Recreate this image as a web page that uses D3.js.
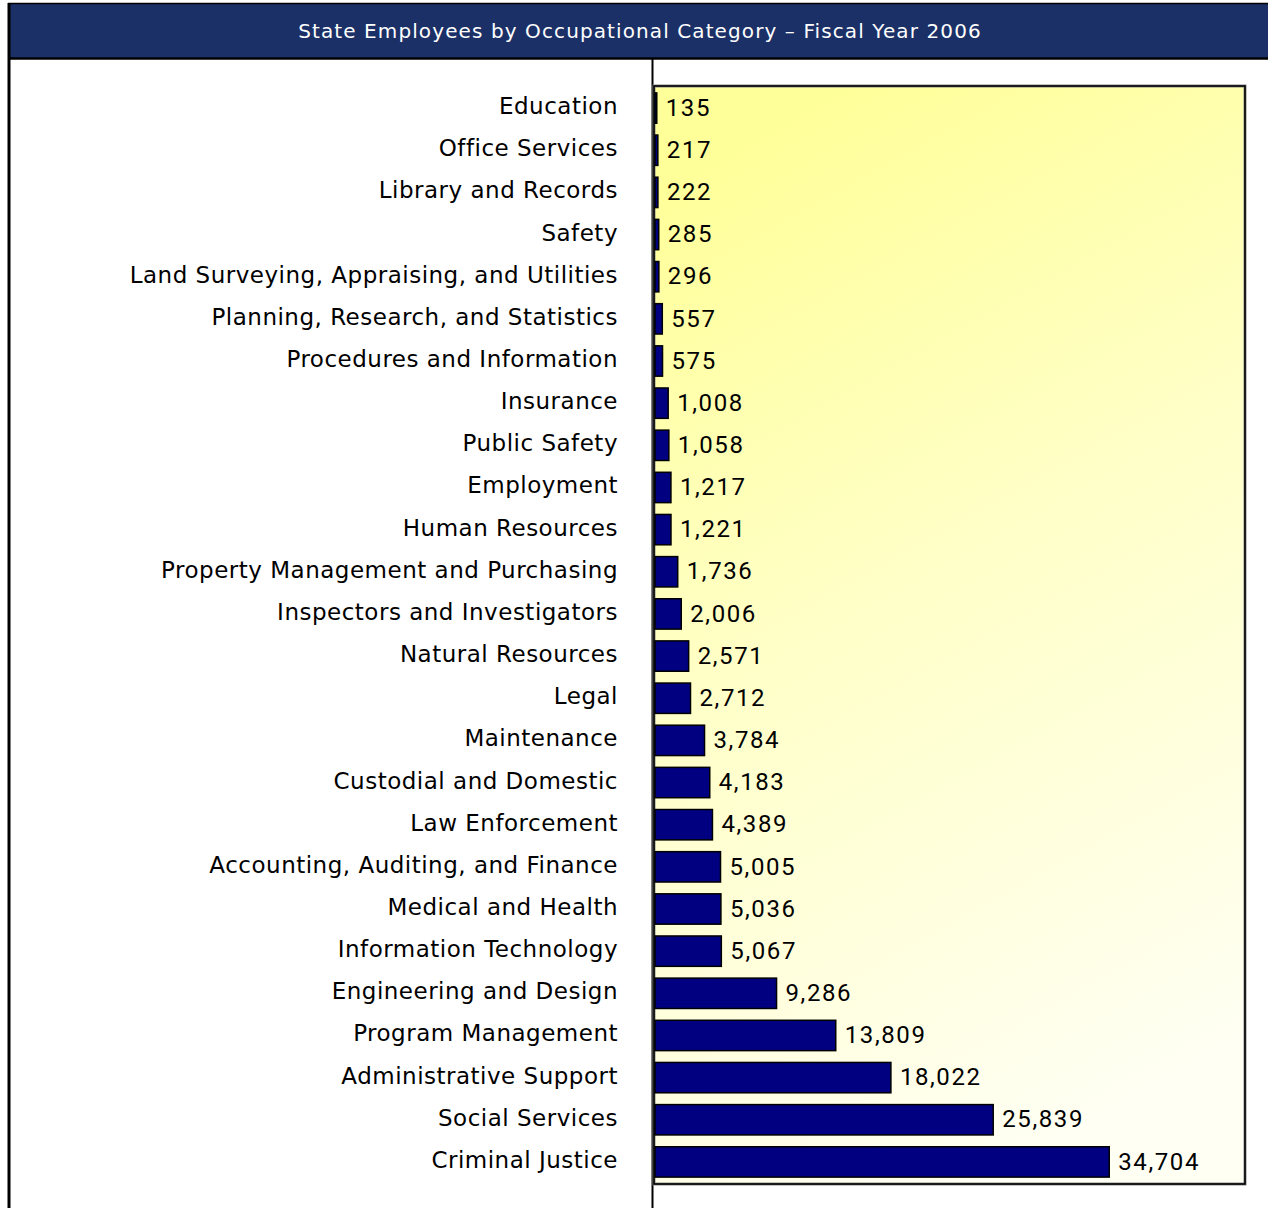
<html>
<head>
    <script src="https://d3js.org/d3.v7.min.js"></script>
    <style>
        body { margin: 0; background: #fff; }
    </style>
</head>
<body>
    <div id="chart">
        <svg width="1268" height="1208"></svg>
    </div>
    <script>
        var categories = ["Education", "Office Services", "Library and Records", "Safety",
            "Land Surveying, Appraising, and Utilities", "Planning, Research, and Statistics",
            "Procedures and Information", "Insurance", "Public Safety", "Employment",
            "Human Resources", "Property Management and Purchasing", "Inspectors and Investigators",
            "Natural Resources", "Legal", "Maintenance", "Custodial and Domestic", "Law Enforcement",
            "Accounting, Auditing, and Finance", "Medical and Health", "Information Technology",
            "Engineering and Design", "Program Management", "Administrative Support",
            "Social Services", "Criminal Justice"]
        var employees = [135, 217, 222, 285, 296, 557, 575, 1008, 1058, 1217, 1221, 1736, 2006,
            2571, 2712, 3784, 4183, 4389, 5005, 5036, 5067, 9286, 13809, 18022, 25839, 34704]
        var title = "State Employees by Occupational Category \u2013 Fiscal Year 2006"

        var data = categories.map(function(c, i) {
            return { cat: c, val: employees[i] }
        })

        var svg = d3.select("#chart svg")

        // plot area
        var plot = { left: 655, top: 87, right: 1244, bottom: 1183 }

        var xScale = d3.scaleLinear()
            .domain([0, 45000])
            .range([plot.left, plot.right])

        var yScale = d3.scaleBand()
            .domain(categories)
            .range([plot.top, plot.bottom])
            .paddingInner(0.28)
            .paddingOuter(0.14)

        var defs = svg.append("defs")
        var grad = defs.append("linearGradient")
            .attr("id", "bg")
            .attr("x1", "0.3").attr("y1", "0")
            .attr("x2", "0.6").attr("y2", "1")
        grad.append("stop").attr("offset", "0").attr("stop-color", "#ffff99")
        grad.append("stop").attr("offset", "0.45").attr("stop-color", "#ffffc8")
        grad.append("stop").attr("offset", "1").attr("stop-color", "#fffff4")

        // header
        svg.append("rect")
            .attr("x", 9).attr("y", 4)
            .attr("width", 1268).attr("height", 54)
            .attr("fill", "#1b3066")
        svg.append("line")
            .attr("x1", 8).attr("x2", 1268)
            .attr("y1", 3.5).attr("y2", 3.5)
            .attr("stroke", "#000").attr("stroke-width", 1.5)
        svg.append("line")
            .attr("x1", 8).attr("x2", 1268)
            .attr("y1", 58.5).attr("y2", 58.5)
            .attr("stroke", "#000").attr("stroke-width", 2.5)
        svg.append("line")
            .attr("x1", 9).attr("x2", 9)
            .attr("y1", 3).attr("y2", 1208)
            .attr("stroke", "#000").attr("stroke-width", 3)
        svg.append("line")
            .attr("x1", 652.5).attr("x2", 652.5)
            .attr("y1", 59).attr("y2", 1208)
            .attr("stroke", "#000").attr("stroke-width", 2)

        svg.append("text")
            .attr("x", 640).attr("y", 38)
            .attr("text-anchor", "middle")
            .attr("fill", "#fff")
            .style("font-family", "'DejaVu Sans', Verdana, sans-serif")
            .style("font-size", "20px")
            .style("letter-spacing", "1.1px")
            .text(title)

        // plot background
        svg.append("rect")
            .attr("x", plot.left - 1).attr("y", plot.top - 1)
            .attr("width", plot.right - plot.left + 2)
            .attr("height", plot.bottom - plot.top + 2)
            .attr("fill", "url(#bg)")
            .attr("stroke", "#888").attr("stroke-width", 3)
        svg.append("rect")
            .attr("x", plot.left - 1).attr("y", plot.top - 1)
            .attr("width", plot.right - plot.left + 2)
            .attr("height", plot.bottom - plot.top + 2)
            .attr("fill", "none")
            .attr("stroke", "#000").attr("stroke-width", 1.6)

        // bars
        svg.selectAll("rect.bar")
            .data(data)
            .enter()
            .append("rect")
            .attr("class", "bar")
            .attr("x", xScale(0))
            .attr("y", function(d) { return yScale(d.cat) })
            .attr("width", function(d) { return xScale(d.val) - xScale(0) })
            .attr("height", yScale.bandwidth())
            .attr("fill", "#000080")
            .attr("stroke", "#000")
            .attr("stroke-width", 1.5)

        // value labels
        svg.selectAll("text.val")
            .data(data)
            .enter()
            .append("text")
            .attr("class", "val")
            .attr("x", function(d) { return xScale(d.val) + 9 })
            .attr("y", function(d) { return yScale(d.cat) + yScale.bandwidth() / 2 })
            .attr("dy", "0.32em")
            .style("font-family", "Roboto, sans-serif")
            .style("font-size", "24px")
            .style("letter-spacing", "1.6px")
            .attr("fill", "#000")
            .text(function(d) { return d3.format(",")(d.val) })

        // category axis
        var yAxis = d3.axisLeft(yScale).tickSize(0).tickPadding(37)
        var axisG = svg.append("g")
            .attr("transform", "translate(" + plot.left + ",0)")
            .call(yAxis)
        axisG.select(".domain").remove()
        axisG.selectAll("text")
            .attr("dy", "0.26em")
            .style("font-family", "'DejaVu Sans', Verdana, sans-serif")
            .style("font-size", "23px")
            .style("letter-spacing", "0.5px")
            .attr("fill", "#000")
    </script>
</body>
</html>
